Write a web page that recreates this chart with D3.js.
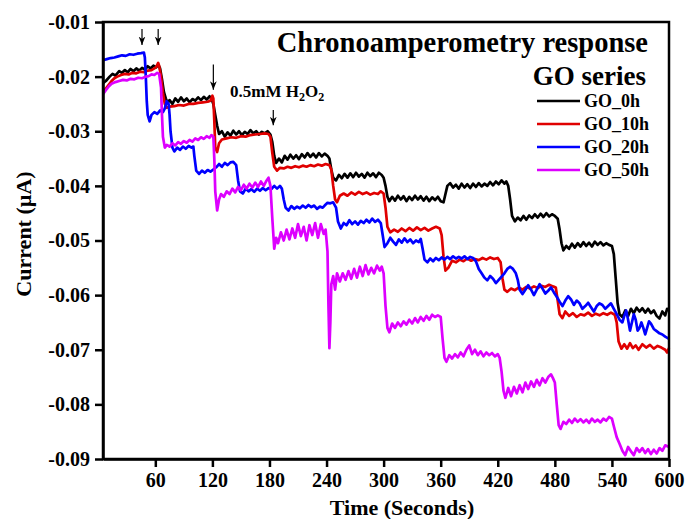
<!DOCTYPE html>
<html>
<head>
<meta charset="utf-8">
<script src="https://cdn.jsdelivr.net/npm/d3@7"></script>
<style>
  body { margin: 0; background: #fff; }
  svg text { font-family: "Liberation Serif", "Times New Roman", serif; font-weight: bold; fill: #000; }
</style>
</head>
<body>
<div id="chart"></div>
<script>
// Chart size and frame
const WIDTH = 687;
const HEIGHT = 519;
const MARGIN = { left: 103, top: 22, right: 18, bottom: 60 };

// Tick labels
const xTicks = [60, 120, 180, 240, 300, 360, 420, 480, 540, 600];
const yTicks = [-0.09, -0.08, -0.07, -0.06, -0.05, -0.04, -0.03, -0.02, -0.01];

// Series names and colours
const seriesNames = ["GO_0h", "GO_10h", "GO_20h", "GO_50h"];
const seriesColors = ["#000000", "#e00000", "#0000ff", "#dd00ff"];

// H2O2 injection arrows: time, tail current, tip current
const arrowTimes = [46, 63, 121, 184];
const arrowTails = [-0.0113, -0.0113, -0.0178, -0.0261];
const arrowTips = [-0.0142, -0.0142, -0.0224, -0.0289];

// [time (s), current (uA)]
const go0h = [
  [5,-0.0212],[8,-0.0208],[12,-0.0200],[15,-0.0195],[18,-0.0198],[22,-0.0190],[25,-0.0193],[28,-0.0188],
  [31,-0.0192],[34,-0.0186],[37,-0.0190],[40,-0.0185],[43,-0.0189],[46,-0.0184],[49,-0.0187],[52,-0.0181],
  [55,-0.0185],[58,-0.0180],[61,-0.0183],[63,-0.0178],[65,-0.0185],[67,-0.0205],[69,-0.0228],[71,-0.0240],
  [73,-0.0248],[75,-0.0243],[78,-0.0250],[81,-0.0240],[84,-0.0246],[87,-0.0238],[90,-0.0245],[93,-0.0240],
  [96,-0.0247],[99,-0.0241],[102,-0.0244],[105,-0.0238],[108,-0.0243],[111,-0.0237],[114,-0.0242],[117,-0.0236],
  [119,-0.0240],[121,-0.0250],[123,-0.0270],[125,-0.0290],[127,-0.0305],[130,-0.0300],[133,-0.0310],[136,-0.0302],
  [139,-0.0308],[142,-0.0299],[145,-0.0306],[148,-0.0300],[151,-0.0307],[154,-0.0301],[157,-0.0305],[160,-0.0298],
  [163,-0.0304],[166,-0.0300],[169,-0.0306],[172,-0.0301],[175,-0.0304],[178,-0.0300],[181,-0.0306],[183,-0.0320],
  [185,-0.0345],[187,-0.0358],[190,-0.0350],[193,-0.0357],[196,-0.0345],[199,-0.0352],[202,-0.0343],[205,-0.0350],
  [208,-0.0344],[211,-0.0351],[214,-0.0342],[217,-0.0348],[220,-0.0340],[223,-0.0347],[226,-0.0341],[229,-0.0348],
  [232,-0.0340],[235,-0.0346],[238,-0.0341],[241,-0.0345],[243,-0.0350],[245,-0.0370],[247,-0.0385],[250,-0.0390],
  [253,-0.0380],[256,-0.0386],[259,-0.0378],[262,-0.0385],[265,-0.0377],[268,-0.0384],[271,-0.0376],[274,-0.0383],
  [277,-0.0378],[280,-0.0385],[283,-0.0376],[286,-0.0382],[289,-0.0377],[292,-0.0384],[295,-0.0376],[298,-0.0380],
  [300,-0.0385],[302,-0.0400],[304,-0.0420],[306,-0.0428],[309,-0.0420],[312,-0.0427],[315,-0.0418],[318,-0.0425],
  [321,-0.0419],[324,-0.0428],[327,-0.0420],[330,-0.0426],[333,-0.0418],[336,-0.0425],[339,-0.0419],[342,-0.0427],
  [345,-0.0420],[348,-0.0428],[351,-0.0421],[354,-0.0426],[357,-0.0420],[360,-0.0428],[363,-0.0430],[365,-0.0415],
  [367,-0.0400],[370,-0.0395],[373,-0.0403],[376,-0.0398],[379,-0.0405],[382,-0.0396],[385,-0.0403],[388,-0.0397],
  [391,-0.0404],[394,-0.0396],[397,-0.0402],[400,-0.0395],[403,-0.0401],[406,-0.0396],[409,-0.0400],[412,-0.0393],
  [415,-0.0399],[418,-0.0392],[421,-0.0397],[424,-0.0390],[427,-0.0396],[429,-0.0392],[431,-0.0400],[433,-0.0425],
  [435,-0.0455],[438,-0.0465],[441,-0.0458],[444,-0.0463],[447,-0.0455],[450,-0.0462],[453,-0.0454],[456,-0.0459],
  [459,-0.0452],[462,-0.0458],[465,-0.0451],[468,-0.0457],[471,-0.0450],[474,-0.0456],[477,-0.0452],[480,-0.0455],
  [483,-0.0460],[485,-0.0480],[487,-0.0505],[489,-0.0518],[492,-0.0510],[495,-0.0515],[498,-0.0506],[501,-0.0513],
  [504,-0.0505],[507,-0.0511],[510,-0.0503],[513,-0.0510],[516,-0.0504],[519,-0.0511],[522,-0.0502],[525,-0.0508],
  [528,-0.0503],[531,-0.0509],[534,-0.0505],[537,-0.0508],[540,-0.0510],[542,-0.0525],[544,-0.0570],[546,-0.0615],
  [548,-0.0635],[551,-0.0640],[554,-0.0628],[557,-0.0638],[560,-0.0625],[563,-0.0633],[566,-0.0623],[569,-0.0630],
  [572,-0.0624],[575,-0.0632],[578,-0.0625],[581,-0.0633],[584,-0.0628],[587,-0.0638],[590,-0.0643],[593,-0.0630],
  [596,-0.0637],[598,-0.0625],[600,-0.0628]
];

const go10h = [
  [5,-0.0228],[8,-0.0222],[11,-0.0215],[14,-0.0208],[17,-0.0203],[20,-0.0200],[24,-0.0197],[28,-0.0195],
  [32,-0.0196],[36,-0.0193],[40,-0.0194],[44,-0.0191],[48,-0.0192],[52,-0.0189],[56,-0.0188],[59,-0.0185],
  [61,-0.0182],[63,-0.0175],[64,-0.0180],[66,-0.0200],[68,-0.0230],[70,-0.0250],[72,-0.0257],[75,-0.0255],
  [80,-0.0254],[85,-0.0252],[90,-0.0253],[95,-0.0250],[100,-0.0250],[105,-0.0248],[110,-0.0247],[115,-0.0246],
  [118,-0.0244],[120,-0.0235],[121,-0.0240],[122,-0.0280],[123,-0.0330],[125,-0.0338],[127,-0.0322],[130,-0.0315],
  [135,-0.0313],[140,-0.0311],[145,-0.0312],[150,-0.0309],[155,-0.0310],[160,-0.0307],[165,-0.0306],[170,-0.0305],
  [175,-0.0304],[179,-0.0305],[181,-0.0310],[183,-0.0340],[185,-0.0365],[188,-0.0372],[191,-0.0367],[195,-0.0368],
  [199,-0.0365],[203,-0.0367],[207,-0.0364],[211,-0.0366],[215,-0.0363],[219,-0.0365],[223,-0.0362],[227,-0.0364],
  [231,-0.0361],[235,-0.0363],[239,-0.0360],[243,-0.0362],[245,-0.0370],[247,-0.0400],[249,-0.0425],[251,-0.0430],
  [254,-0.0418],[258,-0.0414],[262,-0.0418],[266,-0.0412],[270,-0.0416],[274,-0.0411],[278,-0.0415],[282,-0.0412],
  [286,-0.0416],[290,-0.0413],[294,-0.0415],[297,-0.0410],[300,-0.0414],[302,-0.0440],[304,-0.0475],[307,-0.0485],
  [311,-0.0480],[315,-0.0484],[319,-0.0478],[323,-0.0483],[327,-0.0477],[331,-0.0482],[335,-0.0476],[339,-0.0481],
  [343,-0.0477],[347,-0.0482],[351,-0.0478],[355,-0.0475],[359,-0.0478],[361,-0.0490],[363,-0.0530],[365,-0.0555],
  [368,-0.0550],[372,-0.0537],[376,-0.0540],[380,-0.0535],[384,-0.0538],[388,-0.0533],[392,-0.0537],[396,-0.0534],
  [400,-0.0536],[404,-0.0532],[408,-0.0535],[412,-0.0531],[416,-0.0534],[420,-0.0532],[423,-0.0540],[425,-0.0570],
  [427,-0.0590],[430,-0.0594],[434,-0.0588],[438,-0.0591],[442,-0.0586],[446,-0.0590],[450,-0.0585],[454,-0.0588],
  [458,-0.0584],[462,-0.0587],[466,-0.0583],[470,-0.0585],[474,-0.0581],[478,-0.0584],[481,-0.0586],[483,-0.0610],
  [485,-0.0635],[488,-0.0642],[491,-0.0630],[495,-0.0638],[499,-0.0633],[503,-0.0640],[507,-0.0635],[511,-0.0637],
  [515,-0.0632],[519,-0.0638],[523,-0.0634],[527,-0.0637],[531,-0.0633],[535,-0.0636],[539,-0.0632],[543,-0.0636],
  [545,-0.0650],[547,-0.0685],[550,-0.0698],[553,-0.0690],[556,-0.0698],[559,-0.0688],[562,-0.0697],[565,-0.0692],
  [568,-0.0700],[572,-0.0690],[576,-0.0696],[580,-0.0691],[584,-0.0698],[588,-0.0693],[592,-0.0696],[596,-0.0700],
  [598,-0.0705],[600,-0.0697]
];

const go20h = [
  [5,-0.0170],[9,-0.0168],[13,-0.0166],[17,-0.0165],[21,-0.0163],[25,-0.0161],[29,-0.0162],[33,-0.0159],
  [37,-0.0160],[41,-0.0158],[45,-0.0157],[48,-0.0156],[49,-0.0165],[50,-0.0200],[51,-0.0245],[52,-0.0270],
  [54,-0.0282],[56,-0.0270],[59,-0.0265],[62,-0.0268],[65,-0.0262],[68,-0.0265],[70,-0.0258],[72,-0.0245],
  [74,-0.0250],[75,-0.0270],[76,-0.0300],[78,-0.0330],[80,-0.0337],[83,-0.0330],[86,-0.0334],[89,-0.0328],
  [92,-0.0332],[95,-0.0327],[98,-0.0330],[100,-0.0328],[101,-0.0345],[103,-0.0372],[106,-0.0378],[109,-0.0372],
  [112,-0.0376],[115,-0.0371],[118,-0.0374],[121,-0.0370],[124,-0.0366],[127,-0.0360],[130,-0.0365],[133,-0.0358],
  [136,-0.0362],[139,-0.0357],[142,-0.0356],[145,-0.0362],[147,-0.0390],[149,-0.0410],[152,-0.0414],[155,-0.0405],
  [158,-0.0410],[161,-0.0406],[164,-0.0411],[167,-0.0405],[170,-0.0409],[173,-0.0404],[176,-0.0408],[179,-0.0404],
  [182,-0.0406],[185,-0.0400],[188,-0.0405],[191,-0.0400],[193,-0.0405],[195,-0.0425],[197,-0.0440],[200,-0.0445],
  [203,-0.0437],[206,-0.0442],[209,-0.0438],[212,-0.0441],[215,-0.0436],[218,-0.0440],[221,-0.0435],[224,-0.0439],
  [227,-0.0436],[230,-0.0442],[233,-0.0438],[236,-0.0440],[238,-0.0436],[241,-0.0431],[244,-0.0432],[247,-0.0430],
  [250,-0.0440],[252,-0.0465],[255,-0.0478],[258,-0.0468],[261,-0.0472],[264,-0.0463],[267,-0.0470],[270,-0.0465],
  [273,-0.0471],[276,-0.0464],[279,-0.0468],[282,-0.0462],[285,-0.0467],[288,-0.0460],[291,-0.0466],[294,-0.0462],
  [297,-0.0468],[299,-0.0490],[301,-0.0512],[304,-0.0505],[307,-0.0495],[310,-0.0502],[313,-0.0508],[316,-0.0498],
  [319,-0.0504],[322,-0.0496],[325,-0.0503],[328,-0.0498],[331,-0.0505],[334,-0.0500],[337,-0.0503],[339,-0.0497],
  [341,-0.0515],[343,-0.0535],[346,-0.0540],[349,-0.0533],[352,-0.0538],[355,-0.0532],[358,-0.0536],[361,-0.0531],
  [364,-0.0535],[367,-0.0530],[370,-0.0534],[373,-0.0529],[376,-0.0533],[379,-0.0530],[382,-0.0533],[385,-0.0529],
  [388,-0.0534],[391,-0.0530],[394,-0.0532],[397,-0.0538],[400,-0.0552],[403,-0.0560],[406,-0.0568],[409,-0.0573],
  [412,-0.0565],[415,-0.0570],[418,-0.0578],[421,-0.0572],[424,-0.0566],[427,-0.0560],[430,-0.0552],[433,-0.0548],
  [436,-0.0552],[439,-0.0560],[441,-0.0572],[443,-0.0590],[446,-0.0598],[449,-0.0590],[452,-0.0582],[455,-0.0590],
  [458,-0.0600],[461,-0.0590],[464,-0.0580],[467,-0.0588],[470,-0.0597],[473,-0.0592],[476,-0.0586],[479,-0.0595],
  [482,-0.0603],[485,-0.0612],[488,-0.0620],[491,-0.0610],[494,-0.0602],[497,-0.0608],[500,-0.0618],[503,-0.0610],
  [506,-0.0615],[509,-0.0625],[512,-0.0620],[515,-0.0614],[518,-0.0622],[521,-0.0630],[524,-0.0620],[527,-0.0615],
  [530,-0.0618],[533,-0.0625],[536,-0.0620],[539,-0.0615],[542,-0.0625],[545,-0.0635],[548,-0.0645],[551,-0.0650],
  [553,-0.0638],[555,-0.0628],[557,-0.0645],[559,-0.0665],[561,-0.0650],[563,-0.0635],[565,-0.0645],[567,-0.0665],
  [569,-0.0660],[571,-0.0650],[573,-0.0660],[575,-0.0672],[577,-0.0660],[579,-0.0648],[581,-0.0652],[584,-0.0662],
  [587,-0.0666],[590,-0.0670],[593,-0.0672],[596,-0.0676],[600,-0.0680]
];

const go50h = [
  [5,-0.0232],[8,-0.0225],[11,-0.0218],[14,-0.0213],[18,-0.0210],[22,-0.0208],[26,-0.0206],[30,-0.0207],
  [34,-0.0204],[38,-0.0205],[42,-0.0202],[46,-0.0203],[50,-0.0200],[53,-0.0199],[56,-0.0196],[59,-0.0197],
  [62,-0.0193],[64,-0.0195],[66,-0.0220],[67,-0.0270],[68,-0.0310],[70,-0.0330],[72,-0.0325],[75,-0.0328],
  [78,-0.0322],[81,-0.0326],[84,-0.0320],[87,-0.0323],[90,-0.0318],[93,-0.0321],[96,-0.0316],[99,-0.0319],
  [102,-0.0313],[105,-0.0316],[108,-0.0311],[111,-0.0314],[114,-0.0309],[117,-0.0312],[119,-0.0307],[121,-0.0310],
  [122,-0.0350],[123,-0.0410],[125,-0.0445],[127,-0.0425],[129,-0.0415],[132,-0.0420],[135,-0.0410],[138,-0.0415],
  [141,-0.0405],[144,-0.0412],[147,-0.0402],[150,-0.0408],[153,-0.0398],[156,-0.0405],[159,-0.0396],[162,-0.0403],
  [165,-0.0394],[168,-0.0402],[171,-0.0392],[174,-0.0400],[177,-0.0390],[179,-0.0385],[181,-0.0400],[183,-0.0460],
  [185,-0.0515],[187,-0.0495],[189,-0.0505],[192,-0.0485],[195,-0.0500],[198,-0.0480],[201,-0.0498],[204,-0.0478],
  [207,-0.0495],[210,-0.0470],[213,-0.0492],[216,-0.0475],[219,-0.0500],[222,-0.0472],[225,-0.0490],[228,-0.0468],
  [231,-0.0495],[234,-0.0470],[237,-0.0488],[239,-0.0480],[241,-0.0520],[242,-0.0620],[243,-0.0697],[244,-0.0650],
  [245,-0.0580],[247,-0.0565],[249,-0.0590],[251,-0.0560],[254,-0.0575],[257,-0.0560],[260,-0.0572],[263,-0.0556],
  [266,-0.0570],[269,-0.0552],[272,-0.0568],[275,-0.0548],[278,-0.0565],[281,-0.0545],[284,-0.0562],[287,-0.0550],
  [290,-0.0560],[293,-0.0546],[296,-0.0555],[298,-0.0548],[300,-0.0560],[302,-0.0620],[304,-0.0660],[306,-0.0668],
  [309,-0.0652],[312,-0.0660],[315,-0.0650],[318,-0.0657],[321,-0.0648],[324,-0.0654],[327,-0.0645],[330,-0.0652],
  [333,-0.0642],[336,-0.0650],[339,-0.0640],[342,-0.0647],[345,-0.0638],[348,-0.0645],[351,-0.0636],[354,-0.0640],
  [357,-0.0637],[360,-0.0640],[362,-0.0680],[364,-0.0715],[366,-0.0722],[369,-0.0710],[372,-0.0716],[375,-0.0708],
  [378,-0.0714],[381,-0.0705],[384,-0.0712],[387,-0.0700],[390,-0.0692],[393,-0.0708],[396,-0.0700],[399,-0.0710],
  [402,-0.0703],[405,-0.0712],[408,-0.0705],[411,-0.0710],[414,-0.0706],[417,-0.0712],[420,-0.0708],[422,-0.0715],
  [424,-0.0740],[426,-0.0775],[428,-0.0788],[431,-0.0770],[434,-0.0785],[437,-0.0768],[440,-0.0780],[443,-0.0765],
  [446,-0.0778],[449,-0.0760],[452,-0.0772],[455,-0.0758],[458,-0.0768],[461,-0.0755],[464,-0.0765],[467,-0.0752],
  [470,-0.0760],[473,-0.0750],[476,-0.0745],[478,-0.0752],[480,-0.0760],[482,-0.0800],[484,-0.0838],[486,-0.0845],
  [489,-0.0832],[492,-0.0836],[495,-0.0828],[498,-0.0834],[501,-0.0826],[504,-0.0832],[507,-0.0827],[510,-0.0833],
  [513,-0.0828],[516,-0.0834],[519,-0.0826],[522,-0.0832],[525,-0.0828],[528,-0.0833],[531,-0.0826],[534,-0.0830],
  [537,-0.0823],[540,-0.0826],[542,-0.0840],[545,-0.0860],[548,-0.0872],[551,-0.0885],[554,-0.0893],[557,-0.0878],
  [560,-0.0886],[563,-0.0893],[566,-0.0880],[569,-0.0887],[572,-0.0880],[575,-0.0889],[578,-0.0882],[581,-0.0891],
  [584,-0.0883],[587,-0.0890],[590,-0.0880],[593,-0.0885],[596,-0.0875],[600,-0.0878]
];

const seriesData = [go0h, go10h, go20h, go50h];

draw();

function draw () {
    const svg = d3.select("#chart").append("svg")
        .attr("width", WIDTH).attr("height", HEIGHT);

    const x = d3.scaleLinear().domain([5, 600]).range([MARGIN.left, WIDTH - MARGIN.right]);
    const y = d3.scaleLinear().domain([-0.09, -0.01]).range([HEIGHT - MARGIN.bottom, MARGIN.top]);

    // Lines
    const line = d3.line().x(d => x(d[0])).y(d => y(d[1]));
    seriesData.forEach((data, i) => {
        svg.append("path")
            .datum(data)
            .attr("fill", "none")
            .attr("stroke", seriesColors[i])
            .attr("stroke-width", 2.7)
            .attr("stroke-linejoin", "round")
            .attr("d", line);
    });

    // Frame
    svg.append("rect")
        .attr("x", MARGIN.left).attr("y", MARGIN.top)
        .attr("width", WIDTH - MARGIN.left - MARGIN.right)
        .attr("height", HEIGHT - MARGIN.top - MARGIN.bottom)
        .attr("fill", "none").attr("stroke", "#000").attr("stroke-width", 2.5);

    // Axes
    const xAxis = svg.append("g")
        .attr("transform", `translate(0,${HEIGHT - MARGIN.bottom})`)
        .call(d3.axisBottom(x).tickValues(xTicks).tickSize(8).tickPadding(6).tickSizeOuter(0));
    const yAxis = svg.append("g")
        .attr("transform", `translate(${MARGIN.left},0)`)
        .call(d3.axisLeft(y).tickValues(yTicks).tickSize(8).tickPadding(5).tickSizeOuter(0)
            .tickFormat(d => d.toFixed(2)));
    [xAxis, yAxis].forEach(g => {
        g.select(".domain").attr("stroke-width", 2.5);
        g.selectAll(".tick line").attr("stroke-width", 2.5);
        g.selectAll("text").style("font-size", "20px")
            .style("font-family", "'Liberation Serif', 'Times New Roman', serif")
            .style("font-weight", "bold");
    });

    // Axis titles
    svg.append("text")
        .attr("x", 402).attr("y", 515)
        .attr("text-anchor", "middle")
        .style("font-size", "22px")
        .text("Time (Seconds)");
    svg.append("text")
        .attr("transform", "translate(31,234) rotate(-90)")
        .attr("text-anchor", "middle")
        .style("font-size", "22px")
        .text("Current (\u00b5A)");

    // Title
    svg.append("text")
        .attr("x", 648).attr("y", 52)
        .attr("text-anchor", "end")
        .style("font-size", "28.5px")
        .text("Chronoamperometry response");
    svg.append("text")
        .attr("x", 646).attr("y", 85)
        .attr("text-anchor", "end")
        .style("font-size", "27px")
        .text("GO series");

    // Legend
    seriesNames.forEach((name, i) => {
        const ly = 101 + i * 23;
        svg.append("line")
            .attr("x1", 537).attr("x2", 580)
            .attr("y1", ly).attr("y2", ly)
            .attr("stroke", seriesColors[i]).attr("stroke-width", 2.7);
        svg.append("text")
            .attr("x", 584).attr("y", ly + 6)
            .style("font-size", "18px")
            .text(name);
    });

    // Injection arrows
    svg.append("defs").append("marker")
        .attr("id", "head")
        .attr("viewBox", "0 0 10 10")
        .attr("refX", 10).attr("refY", 5)
        .attr("markerWidth", 7).attr("markerHeight", 7)
        .attr("orient", "auto")
        .append("path").attr("d", "M0,1 L10,5 L0,9 L3,5 Z").attr("fill", "#000");
    arrowTimes.forEach((t, i) => {
        svg.append("line")
            .attr("x1", x(t)).attr("x2", x(t))
            .attr("y1", y(arrowTails[i])).attr("y2", y(arrowTips[i]))
            .attr("stroke", "#000").attr("stroke-width", 1.2)
            .attr("marker-end", "url(#head)");
    });

    // Injection label
    const lbl = svg.append("text")
        .attr("x", 230).attr("y", 97)
        .style("font-size", "17px");
    lbl.append("tspan").text("0.5mM H");
    lbl.append("tspan").attr("dy", 4).style("font-size", "12px").text("2");
    lbl.append("tspan").attr("dy", -4).text("O");
    lbl.append("tspan").attr("dy", 4).style("font-size", "12px").text("2");
}
</script>
</body>
</html>
